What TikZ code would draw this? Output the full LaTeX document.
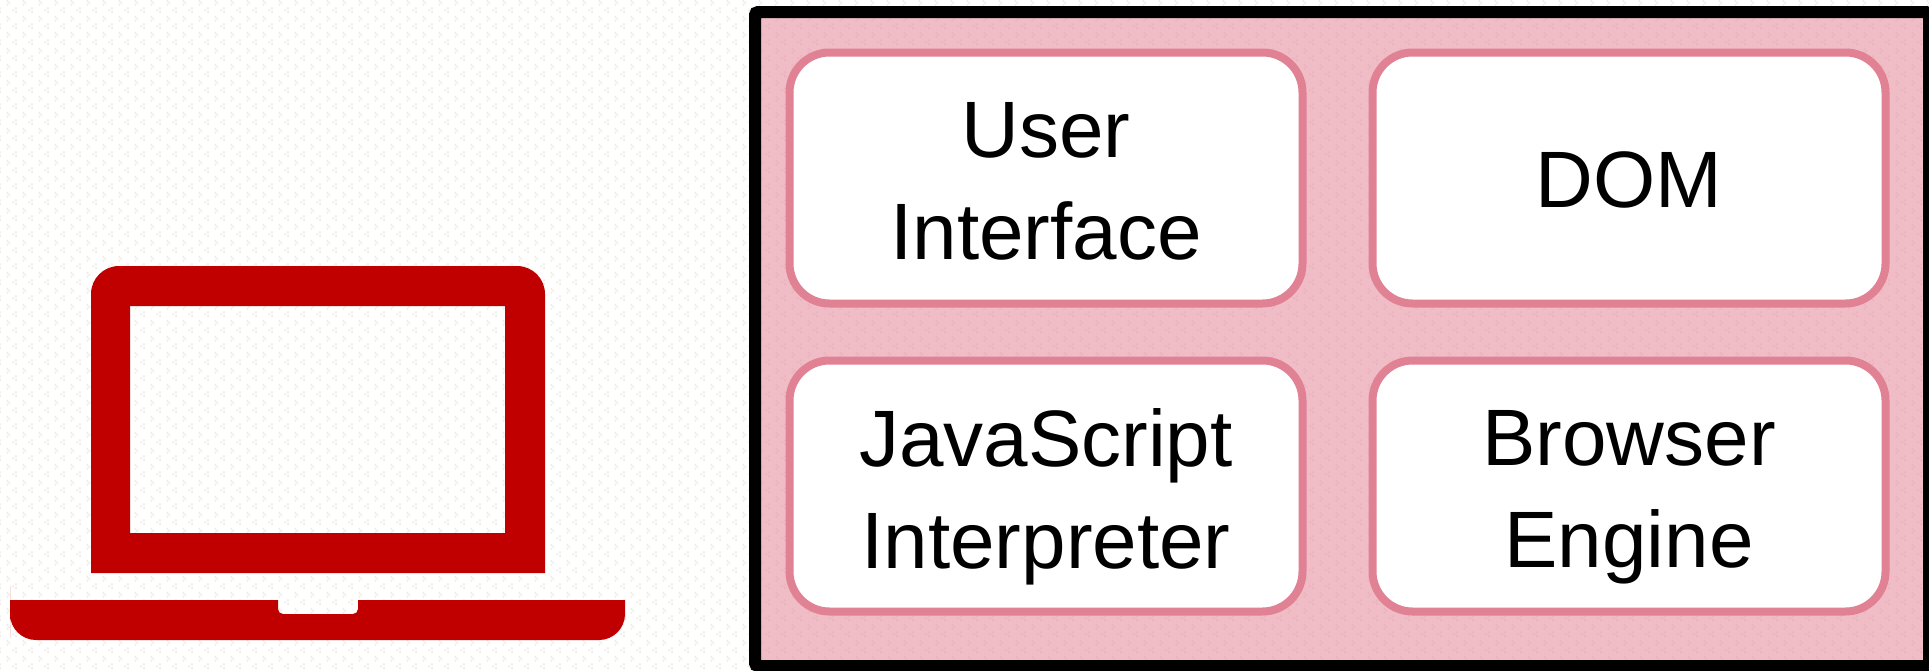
\documentclass[tikz,border=0pt]{standalone}
\usepackage{fontspec}
\usetikzlibrary{patterns}
\setmainfont{Liberation Sans}
\definecolor{lapred}{HTML}{C00000}
\definecolor{panelpink}{HTML}{F0BDC7}
\definecolor{boxedge}{HTML}{E08194}
\definecolor{speck}{HTML}{F0EEE4}
\definecolor{speckpink}{HTML}{EAB4BF}
\pgfdeclarepatternformonly{specks}{\pgfpointorigin}{\pgfqpoint{16pt}{16pt}}{\pgfqpoint{16pt}{16pt}}{
  \pgfpathrectangle{\pgfqpoint{8pt}{14pt}}{\pgfqpoint{2pt}{2pt}}
  \pgfpathrectangle{\pgfqpoint{10pt}{12pt}}{\pgfqpoint{2pt}{2pt}}
  \pgfpathrectangle{\pgfqpoint{8pt}{10pt}}{\pgfqpoint{2pt}{2pt}}
  \pgfpathrectangle{\pgfqpoint{0pt}{6pt}}{\pgfqpoint{2pt}{2pt}}
  \pgfpathrectangle{\pgfqpoint{14pt}{4pt}}{\pgfqpoint{2pt}{2pt}}
  \pgfpathrectangle{\pgfqpoint{0pt}{2pt}}{\pgfqpoint{2pt}{2pt}}
  \pgfusepath{fill}
}
\tikzset{
  blockbox/.style={draw=boxedge,line width=8pt,fill=white,rounded corners=40pt,
    minimum width=513pt,minimum height=251pt,inner sep=0pt,align=center,
    font=\fontsize{80}{102}\selectfont,text=black,text depth=0pt},
  lapfill/.style={fill=lapred,draw=none,even odd rule}
}
\begin{document}
\begin{tikzpicture}[x=1pt,y=-1pt]
\useasboundingbox (0,0) rectangle (1929,670);
\fill[white] (0,0) rectangle (1929,670);
\fill[pattern=specks,pattern color=speck] (0,0) rectangle (1929,670);
\clip (0,0) rectangle (1929,670);
% panel
\fill[panelpink] (755,12) rectangle (1929,666);
\fill[pattern=specks,pattern color=speckpink] (755,12) rectangle (1929,666);
\draw[black,line width=12pt,rounded corners=3pt] (755,12) rectangle (1929,666);
% laptop
\fill[lapfill] (91,573) -- (91,400) [rounded corners=28pt] -- (91,266) -- (545,266) -- (545,400) [sharp corners] -- (545,573) -- cycle
  (130,306) rectangle (505,533);
\fill[lapfill] (10,600) -- (278,600) [rounded corners=5pt] -- (278,614) -- (358,614) [sharp corners] -- (358,600) -- (625,600) -- (625,620) [rounded corners=26pt] -- (625,640) -- (10,640) -- (10,612) [sharp corners] -- cycle;
% blocks
\node[blockbox] (ui) at (1046,178) {\raisebox{-5pt}{User}\\\raisebox{-5pt}{Interface}};
\node[blockbox] (dom) at (1629,178) {\raisebox{-3pt}{DOM}};
\node[blockbox] (js) at (1046,486) {\raisebox{-5pt}{JavaScript}\\\raisebox{-5pt}{Interpreter}};
\node[blockbox] (be) at (1629,486) {\raisebox{-5pt}{Browser}\\\raisebox{-5pt}{Engine}};
\end{tikzpicture}
\end{document}
